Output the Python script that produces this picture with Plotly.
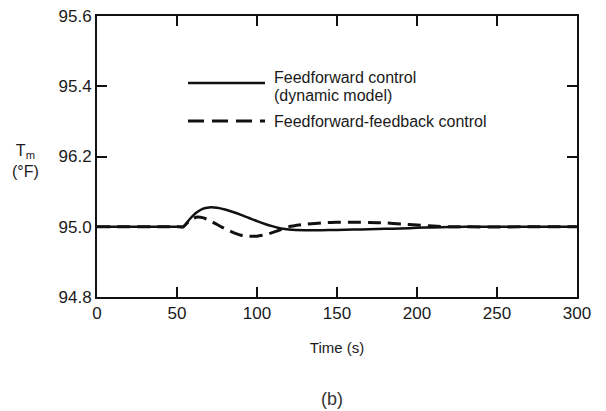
import plotly.graph_objects as go

# time (s) and outlet temperature (deg F)
t_ff = [0, 50, 54, 58, 62, 66, 70, 75, 80, 85, 90, 95, 100, 105, 110, 115, 120,
        130, 140, 150, 160, 170, 180, 190, 200, 210, 220, 230, 240, 300]
temp_ff = [95.0, 95.0, 95.0, 95.022, 95.04, 95.051, 95.055, 95.054, 95.049, 95.042,
           95.034, 95.025, 95.016, 95.008, 95.001, 94.995, 94.992, 94.99, 94.99,
           94.991, 94.992, 94.993, 94.994, 94.995, 94.997, 94.998, 94.999, 95.0,
           95.0, 95.0]

t_fb = [0, 50, 54, 58, 62, 66, 70, 74, 78, 82, 86, 90, 95, 100, 105, 110, 115, 120,
        130, 140, 150, 160, 170, 180, 190, 200, 210, 220, 300]
temp_fb = [95.0, 95.0, 95.0, 95.018, 95.027, 95.026, 95.019, 95.009, 94.999, 94.99,
           94.982, 94.976, 94.973, 94.973, 94.977, 94.984, 94.992, 95.0, 95.007,
           95.011, 95.013, 95.013, 95.012, 95.011, 95.008, 95.005, 95.002, 95.0, 95.0]

x_ticks = [0, 50, 100, 150, 200, 250, 300]
y_ticks = [94.8, 95.0, 95.2, 95.4, 95.6]
y_tick_labels = ["94.8", "95.0", "96.2", "95.4", "95.6"]

# the page body adds an 8px margin, so the figure is shifted by that much
OFF = 8
W, H = 606 - OFF, 411 - OFF
# plot box in screen pixels
L, R, T, B = 97, 577, 16, 297


def px(x):
    return (x - L) / (R - L)


def py(y):
    return (B - y) / (B - T)


ink = "#111"
txt = "#1a1a1a"
font = "Liberation Sans"

fig = go.Figure()
fig.add_trace(go.Scatter(x=t_ff, y=temp_ff, mode="lines",
                         line=dict(color=ink, width=2.5, shape="spline", smoothing=0.6)))
fig.add_trace(go.Scatter(x=t_fb, y=temp_fb, mode="lines",
                         line=dict(color=ink, width=3, dash="13px,7px",
                                   shape="spline", smoothing=0.6)))

# legend drawn by hand, like the original figure
fig.add_shape(type="line", xref="paper", yref="paper", x0=px(188), x1=px(265),
              y0=py(83), y1=py(83), line=dict(color=ink, width=2.5))
fig.add_shape(type="line", xref="paper", yref="paper", x0=px(188), x1=px(265),
              y0=py(121), y1=py(121), line=dict(color=ink, width=3, dash="16px,8px"))

notes = [
    ("Feedforward control", 272, 78),
    ("(dynamic model)", 272, 96),
    ("Feedforward-feedback control", 272, 121),
]
for text, x, y in notes:
    fig.add_annotation(text=text, xref="paper", yref="paper", x=px(x), y=py(y),
                       xanchor="left", yanchor="middle", showarrow=False,
                       font=dict(family=font, size=16, color=txt))

fig.add_annotation(text="T<sub>m</sub><br>(°F)", xref="paper", yref="paper",
                   x=px(25), y=py(161), xanchor="center", yanchor="middle",
                   showarrow=False, font=dict(family=font, size=16, color=txt))
fig.add_annotation(text="(b)", xref="paper", yref="paper", x=px(332), y=py(399),
                   xanchor="center", yanchor="middle", showarrow=False,
                   font=dict(family=font, size=18, color="#333"))

axis_common = dict(showline=True, linecolor=ink, linewidth=2, mirror="allticks",
                   ticks="inside", ticklen=10, tickwidth=2, tickcolor=ink,
                   showgrid=False, zeroline=False, automargin=False,
                   ticklabeloverflow="allow",
                   tickfont=dict(family=font, size=17, color=txt))

fig.update_xaxes(range=[0, 300], tickvals=x_ticks,
                 title=dict(text="Time (s)", font=dict(family=font, size=15, color=txt),
                            standoff=20),
                 **axis_common)
fig.update_yaxes(range=[94.8, 95.6], tickvals=y_ticks, ticktext=y_tick_labels,
                 **axis_common)

fig.update_layout(
    width=W, height=H,
    margin=dict(l=L - OFF, r=606 - R, t=T - OFF, b=411 - B),
    plot_bgcolor="white", paper_bgcolor="white",
    showlegend=False,
)

fig.write_html("out.html")
